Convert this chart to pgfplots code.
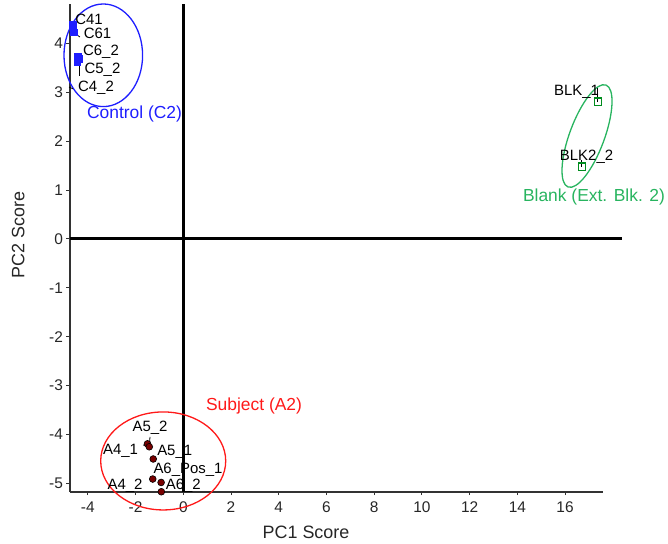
\documentclass[border=0pt]{standalone}
\usepackage{fontspec}
\setmainfont{Liberation Sans}
\usepackage{pgfplots}
\pgfplotsset{compat=1.18}
\definecolor{ctrlblue}{RGB}{30,30,255}
\definecolor{blkgreen}{RGB}{40,180,95}
\definecolor{mkgreen}{RGB}{0,140,30}
\definecolor{subred}{RGB}{255,25,25}
\definecolor{mkred}{RGB}{120,0,0}
\definecolor{axgray}{RGB}{50,50,50}
\begin{document}
\begin{tikzpicture}
\begin{axis}[
  width=533bp, height=487.7bp, scale only axis,
  xmin=-4.75, xmax=17.59, ymin=-5.17, ymax=4.806,
  axis lines=left, axis line style={-, axgray, line width=1.9bp},
  xtick={-4,-2,...,16}, ytick={-5,-4,...,4},
  tick align=outside, major tick length=3.5bp,
  tick style={axgray, line width=1bp},
  /pgf/number format/assume math mode=true,
  ticklabel style={font=\fontsize{15.5}{18}\selectfont, text=black!85},
  xticklabel style={yshift=-3bp},
  clip=false,
]
% page frame
\path (axis cs:-7.682,4.888) rectangle (axis cs:20.314,-6.237);
% zero lines
\draw[black, line width=3bp] (axis cs:-4.75,0) -- (axis cs:18.38,0);
\draw[black, line width=3bp] (axis cs:0,-5.17) -- (axis cs:0,4.806);
% ellipses
\draw[ctrlblue, line width=1.3bp] (axis cs:-3.353,3.757) ellipse [x radius=39.3bp, y radius=51.3bp];
\draw[subred, line width=1.3bp] (axis cs:-0.842,-4.54) ellipse [x radius=62.5bp, y radius=49bp];
\draw[blkgreen, line width=1.3bp, rotate around={69.6:(axis cs:16.92,2.106)}] (axis cs:16.92,2.106) ellipse [x radius=54.4bp, y radius=17.4bp];
% leader lines
\draw[black, line width=0.8bp] (axis cs:-4.371,3.722) -- (axis cs:-4.371,3.333);
\draw[black, line width=0.8bp] (axis cs:-4.58,4.213) -- (axis cs:-4.33,4.131);
\draw[black, line width=0.8bp] (axis cs:-4.79,3.108) -- (axis cs:-4.62,3.07);
\draw[black, line width=0.8bp] (axis cs:17.37,3.088) -- (axis cs:17.37,2.81);
\draw[black, line width=0.8bp] (axis cs:16.70,1.616) -- (axis cs:16.70,1.479);
\draw[black, line width=0.8bp] (axis cs:-1.685,-4.213) -- (axis cs:-1.425,-4.247);
\draw[black, line width=0.8bp] (axis cs:-1.396,-4.049) -- (axis cs:-1.425,-4.23);
\draw[black, line width=0.8bp] (axis cs:-1.396,-4.867) -- (axis cs:-1.27,-4.908);
% Control (C2)
\addplot[only marks, mark=square*, mark size=3.4bp, draw=ctrlblue, fill=ctrlblue] coordinates {
  (-4.62,4.38) (-4.58,4.23) (-4.41,3.74) (-4.37,3.68) (-4.45,3.62)
};
% Blank
\addplot[only marks, mark=square, mark size=3.6bp, draw=mkgreen, line width=1.2bp] coordinates {
  (17.37,2.81) (16.72,1.48)
};
% Subject (A2)
\addplot[only marks, mark=*, mark size=3.4bp, draw=black, fill=mkred, line width=0.6bp] coordinates {
  (-1.50,-4.19) (-1.425,-4.25) (-1.26,-4.50) (-1.28,-4.91) (-0.93,-4.98) (-0.92,-5.17)
};
% point labels
\begin{scope}[every node/.style={font=\fontsize{15}{17}\selectfont, inner sep=0pt}]
\node at (axis cs:-3.952,4.499) {C41};
\node at (axis cs:-3.596,4.213) {C61};
\node at (axis cs:-3.449,3.824) {C6\_2};
\node at (axis cs:-3.386,3.456) {C5\_2};
\node at (axis cs:-3.659,3.088) {C4\_2};
\node at (axis cs:16.48,3.006) {BLK\_1};
\node at (axis cs:16.90,1.677) {BLK2\_2};
\node at (axis cs:-1.396,-3.865) {A5\_2};
\node at (axis cs:-2.632,-4.329) {A4\_1};
\node at (axis cs:-0.360,-4.350) {A5\_1};
\node at (axis cs:0.197,-4.724) {A6\_Pos\_1};
\node at (axis cs:-2.443,-5.051) {A4\_2};
\node at (axis cs:0,-5.051) {A6\_2};
\end{scope}
\begin{scope}[every node/.style={font=\fontsize{17.5}{20}\selectfont, inner sep=0pt}]
\node[text=ctrlblue] at (axis cs:-2.045,2.556) {Control (C2)};
\node[text=blkgreen] at (axis cs:17.21,0.865) {Blank (Ext. Blk. 2)};
\node[text=subred] at (axis cs:2.963,-3.415) {Subject (A2)};
\end{scope}
% axis titles
\node[font=\fontsize{18}{21}\selectfont, text=black!85, inner sep=0pt] at (axis cs:5.143,-6.006) {PC1 Score};
\node[font=\fontsize{18}{21}\selectfont, text=black!85, inner sep=0pt, rotate=90] at (axis cs:-6.915,0.082) {PC2 Score};
\end{axis}
\end{tikzpicture}
\end{document}
